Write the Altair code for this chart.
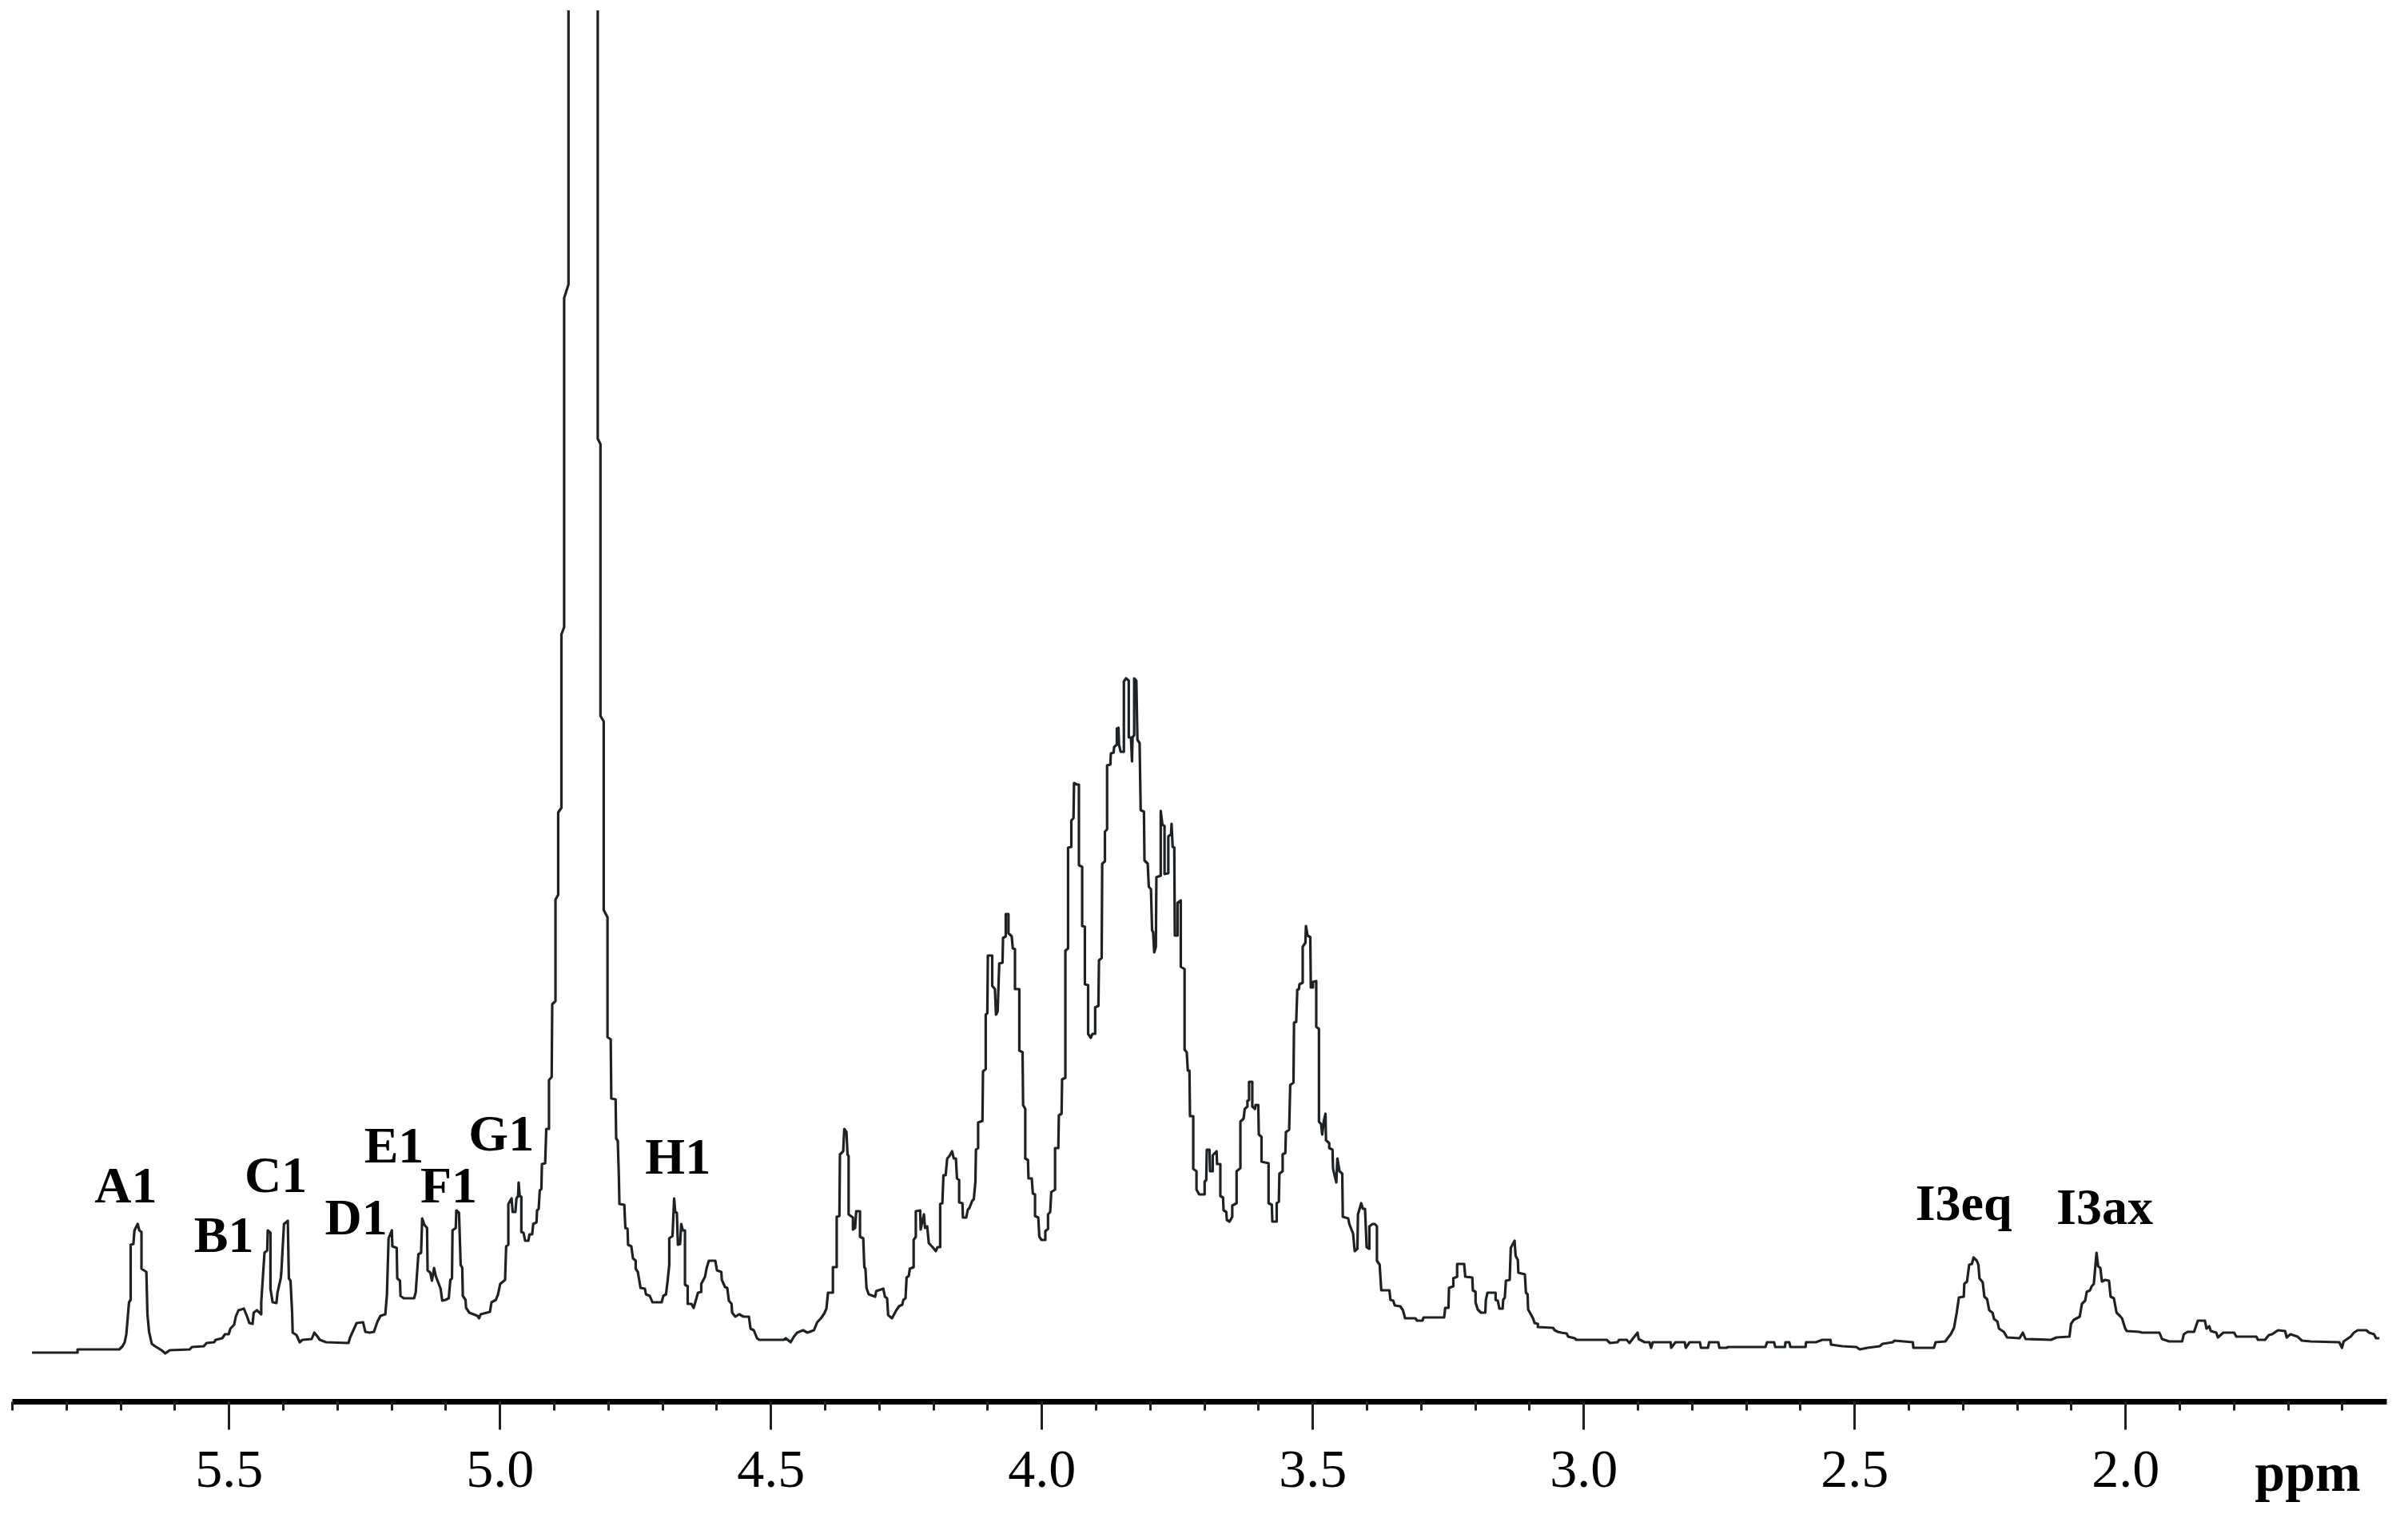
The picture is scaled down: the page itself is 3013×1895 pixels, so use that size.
import altair as alt
import pandas as pd

# 1H NMR spectrum trace: chemical shift (ppm) and intensity (arbitrary units)
ppm = [
    5.863, 5.779, 5.779, 5.702, 5.696, 5.692, 5.689, 5.684, 5.681, 5.681,
    5.676, 5.674, 5.668, 5.665, 5.661, 5.661, 5.652, 5.650, 5.647, 5.642,
    5.636, 5.624, 5.617, 5.609, 5.572, 5.568, 5.546, 5.541, 5.527, 5.524,
    5.512, 5.507, 5.500, 5.497, 5.490, 5.487, 5.482, 5.472, 5.466, 5.462,
    5.456, 5.454, 5.448, 5.440, 5.440, 5.434, 5.429, 5.428, 5.423, 5.423,
    5.419, 5.412, 5.410, 5.404, 5.403, 5.398, 5.391, 5.389, 5.386, 5.383,
    5.382, 5.375, 5.369, 5.364, 5.347, 5.342, 5.336, 5.332, 5.320, 5.279,
    5.276, 5.264, 5.252, 5.248, 5.240, 5.232, 5.226, 5.220, 5.211, 5.208,
    5.205, 5.199, 5.198, 5.190, 5.189, 5.184, 5.183, 5.177, 5.158, 5.155,
    5.150, 5.145, 5.143, 5.139, 5.134, 5.133, 5.128, 5.125, 5.121, 5.118,
    5.109, 5.106, 5.100, 5.094, 5.091, 5.088, 5.087, 5.081, 5.080, 5.075,
    5.072, 5.069, 5.068, 5.063, 5.062, 5.056, 5.041, 5.038, 5.035,
    5.018, 5.015, 5.007, 5.003, 4.999, 4.990, 4.988, 4.984, 4.984, 4.978,
    4.976, 4.971, 4.969, 4.966, 4.965, 4.963, 4.960, 4.960, 4.956, 4.953,
    4.947, 4.945, 4.940, 4.938, 4.932, 4.931, 4.928, 4.926, 4.923, 4.922,
    4.916, 4.914, 4.909, 4.909, 4.904, 4.903, 4.897, 4.897, 4.892, 4.892,
    4.886, 4.886, 4.881, 4.881, 4.873, 4.873, 4.819, 4.819, 4.814, 4.814,
    4.808, 4.808, 4.801, 4.801, 4.795, 4.794, 4.786, 4.785, 4.782, 4.780,
    4.779, 4.770, 4.768, 4.764, 4.763, 4.757, 4.754, 4.749, 4.749, 4.745,
    4.740, 4.732, 4.730, 4.723, 4.718, 4.701, 4.698, 4.693, 4.690, 4.687,
    4.687, 4.681, 4.678, 4.676, 4.673, 4.671, 4.667, 4.665, 4.662, 4.658,
    4.658, 4.653, 4.653, 4.646, 4.642, 4.639, 4.634, 4.628, 4.628, 4.621,
    4.618, 4.614, 4.602, 4.599, 4.591, 4.590, 4.584, 4.580, 4.577, 4.572,
    4.571, 4.565, 4.558, 4.550, 4.540, 4.537, 4.531, 4.525, 4.521, 4.476,
    4.472, 4.463, 4.457, 4.451, 4.440, 4.432,
    4.420, 4.414, 4.407, 4.401, 4.397, 4.394, 4.385, 4.385, 4.378, 4.378,
    4.373, 4.372, 4.366, 4.364, 4.360, 4.358, 4.356, 4.356, 4.348, 4.348,
    4.344, 4.342, 4.335, 4.335, 4.329, 4.327, 4.325, 4.323, 4.319, 4.307,
    4.305, 4.292, 4.289, 4.285, 4.283, 4.276, 4.268, 4.263, 4.257, 4.255,
    4.251, 4.249, 4.245, 4.243, 4.236, 4.236, 4.232, 4.232, 4.224, 4.223,
    4.220, 4.217, 4.215, 4.211, 4.208, 4.201, 4.195, 4.192, 4.187, 4.187,
    4.183, 4.181, 4.177, 4.174, 4.170, 4.165, 4.162, 4.158, 4.156, 4.152,
    4.152, 4.146, 4.145, 4.139, 4.136, 4.133, 4.128, 4.125, 4.122, 4.121,
    4.117, 4.117, 4.109, 4.108, 4.103, 4.103, 4.100, 4.099, 4.091, 4.091,
    4.086, 4.084, 4.081, 4.078, 4.072, 4.071, 4.066, 4.066, 4.061, 4.061,
    4.055, 4.053, 4.049, 4.049, 4.041, 4.041, 4.035, 4.034, 4.030, 4.030,
    4.025, 4.024, 4.018, 4.016, 4.012, 4.012, 4.006, 4.004, 4.000, 3.993,
    3.993, 3.988, 3.988, 3.984, 3.982, 3.975, 3.975, 3.969, 3.968, 3.963,
    3.962, 3.956, 3.956, 3.951, 3.951, 3.945, 3.945, 3.941, 3.940, 3.935,
    3.931, 3.931, 3.925, 3.925, 3.920, 3.920, 3.914, 3.914, 3.909, 3.906,
    3.901, 3.901, 3.895, 3.894, 3.889, 3.888, 3.883, 3.883, 3.879, 3.879,
    3.873, 3.872, 3.867, 3.866, 3.861, 3.861, 3.858, 3.857, 3.854, 3.848,
    3.848, 3.844, 3.839, 3.839, 3.835, 3.833, 3.832, 3.829, 3.829, 3.825,
    3.823, 3.819, 3.817, 3.811, 3.810, 3.804, 3.802, 3.798, 3.796, 3.794,
    3.792, 3.789, 3.788, 3.780, 3.780, 3.777, 3.773, 3.773, 3.766, 3.766,
    3.761, 3.760, 3.758, 3.755, 3.754, 3.749, 3.749, 3.743, 3.743, 3.736,
    3.736, 3.732, 3.730, 3.727, 3.726, 3.720, 3.720, 3.714, 3.714, 3.709,
    3.699, 3.699, 3.696, 3.695, 3.690, 3.689, 3.684, 3.684, 3.677, 3.676,
    3.670, 3.670, 3.665, 3.664, 3.659, 3.658, 3.653, 3.648, 3.648, 3.640,
    3.640, 3.633, 3.633, 3.627, 3.625, 3.620, 3.620, 3.617, 3.617, 3.611,
    3.611, 3.606, 3.605, 3.600, 3.599, 3.594, 3.594, 3.581, 3.581, 3.575,
    3.574, 3.566, 3.566, 3.562, 3.561, 3.555, 3.555, 3.550, 3.549, 3.543,
    3.541, 3.535, 3.534, 3.530, 3.528, 3.525, 3.524, 3.518, 3.518, 3.513,
    3.512, 3.509, 3.504, 3.503, 3.499, 3.499, 3.493, 3.493, 3.488, 3.488,
    3.484, 3.482, 3.479, 3.476, 3.475, 3.469, 3.469, 3.463, 3.462, 3.456,
    3.454, 3.450, 3.445, 3.444, 3.434, 3.432, 3.425, 3.422, 3.417, 3.416,
    3.410, 3.407, 3.403, 3.400, 3.395, 3.395, 3.389, 3.385, 3.381, 3.381,
    3.376, 3.373, 3.358, 3.356, 3.351, 3.348, 3.338, 3.333, 3.329,
    3.310, 3.307, 3.297, 3.295, 3.257, 3.255, 3.249, 3.248, 3.240, 3.240,
    3.233, 3.233, 3.220, 3.218, 3.205, 3.204, 3.199, 3.199, 3.195, 3.189,
    3.181, 3.180, 3.177, 3.162, 3.162, 3.158, 3.155, 3.149, 3.148, 3.145,
    3.143, 3.136, 3.134, 3.131, 3.127, 3.125, 3.121, 3.120, 3.108, 3.106,
    3.103, 3.102, 3.097, 3.093, 3.090, 3.084, 3.084, 3.056, 3.053, 3.047,
    3.041, 3.031, 3.028, 3.016, 3.013, 2.957, 2.951, 2.937, 2.934, 2.920,
    2.915, 2.907, 2.900, 2.898, 2.887, 2.878, 2.875, 2.872,
    2.839, 2.838, 2.830, 2.813, 2.811, 2.804, 2.785, 2.783, 2.770, 2.768,
    2.751, 2.749, 2.736, 2.733, 2.664, 2.661, 2.648, 2.646, 2.628, 2.627,
    2.620, 2.618, 2.590, 2.589, 2.571, 2.559, 2.544, 2.543, 2.522, 2.496,
    2.490, 2.476, 2.453, 2.448, 2.429, 2.426, 2.392, 2.391, 2.353, 2.350,
    2.332, 2.329, 2.322, 2.316, 2.311, 2.307, 2.298, 2.297, 2.292, 2.288,
    2.283, 2.280, 2.274, 2.271, 2.269, 2.263, 2.260, 2.255, 2.251, 2.245,
    2.242, 2.236, 2.233, 2.224, 2.218, 2.195, 2.189, 2.184, 2.137, 2.127,
    2.103, 2.100, 2.095, 2.084, 2.080, 2.074, 2.071, 2.065, 2.062, 2.058,
    2.053, 2.050, 2.046, 2.043, 2.037, 2.030, 2.027, 2.021, 2.016, 2.010,
    2.006, 2.000, 1.997, 1.974, 1.969, 1.937, 1.932, 1.919, 1.895, 1.892,
    1.885, 1.873, 1.866, 1.853, 1.850, 1.845, 1.842, 1.832, 1.829, 1.819,
    1.799, 1.795, 1.758, 1.755, 1.742, 1.735, 1.729, 1.718, 1.705, 1.702,
    1.695, 1.682, 1.674, 1.658, 1.605, 1.600, 1.597, 1.584, 1.578, 1.571,
    1.555, 1.550, 1.541, 1.537, 1.531,
]

intensity = [
    61, 61, 65, 65, 69, 74, 84, 124, 127, 196,
    197, 214, 222, 214, 212, 166, 162, 109, 87, 72,
    69, 64, 60, 64, 65, 68, 69, 73, 74, 77,
    79, 84, 84, 91, 96, 106, 114, 116, 106, 98,
    97, 111, 114, 109, 124, 186, 189, 214, 211, 141,
    124, 123, 136, 154, 161, 222, 226, 154, 151, 111,
    86, 83, 74, 77, 78, 86, 81, 77, 74, 73,
    80, 98, 99, 87, 86, 87, 99, 107, 109, 134,
    204, 214, 194, 192, 154, 151, 132, 129, 129, 136,
    184, 186, 229, 221, 217, 164, 161, 151, 167, 157,
    141, 126, 127, 129, 152, 154, 214, 217, 239, 236,
    171, 167, 132, 127, 117, 111, 107, 104, 109,
    112, 124, 127, 134, 147, 152, 194, 196, 247, 254,
    237, 237, 254, 257, 274, 257, 256, 212, 211, 201,
    201, 209, 209, 222, 224, 239, 241, 264, 266, 297,
    298, 341, 341, 402, 406, 497, 501, 628, 634, 737,
    743, 960, 969, 1381, 1398, 2054, 2054, 1205, 1198, 858,
    851, 615, 606, 456, 453, 379, 378, 329, 326, 281,
    247, 246, 217, 216, 196, 194, 179, 176, 166, 162,
    142, 141, 134, 132, 124, 124, 132, 134, 151, 171,
    204, 207, 254, 237, 236, 196, 197, 222, 214, 214,
    146, 144, 122, 122, 117, 124, 136, 137, 147, 156,
    167, 176, 176, 164, 162, 152, 143, 142, 126, 122,
    111, 106, 109, 106, 106, 91, 89, 79, 77, 77,
    79, 74, 81, 86, 89, 86,
    89, 99, 104, 110, 116, 136, 136, 168, 168, 231,
    232, 309, 313, 341, 337, 309, 307, 234, 230, 215,
    217, 238, 238, 206, 204, 168, 166, 142, 134, 131,
    138, 141, 131, 129, 108, 104, 114, 119, 121, 127,
    129, 155, 157, 166, 168, 202, 206, 238, 239, 215,
    225, 234, 217, 219, 198, 193, 188, 193, 193, 247,
    248, 283, 283, 304, 307, 313, 304, 304, 279, 277,
    249, 248, 230, 230, 240, 242, 251, 253, 275, 315,
    317, 349, 351, 413, 416, 484, 486, 558, 558, 520,
    516, 484, 488, 548, 549, 580, 582, 610, 610, 586,
    582, 567, 566, 516, 516, 439, 437, 371, 366, 304,
    302, 279, 279, 260, 259, 232, 230, 206, 202, 202,
    213, 216, 234, 237, 262, 265, 317, 317, 358, 360,
    403, 405, 564, 567, 693, 694, 727, 730, 774, 772,
    772, 671, 669, 595, 594, 522, 521, 460, 455, 460,
    460, 493, 495, 552, 555, 673, 676, 713, 716, 796,
    797, 811, 812, 819, 822, 842, 843, 822, 813, 813,
    901, 905, 902, 831, 831, 801, 831, 834, 905, 902,
    828, 824, 740, 738, 677, 673, 644, 641, 590, 587,
    562, 569, 656, 658, 739, 722, 720, 660, 661, 707,
    710, 723, 694, 693, 583, 583, 624, 627, 544, 541,
    440, 437, 414, 414, 357, 357, 291, 288, 265, 259,
    259, 275, 277, 315, 315, 288, 288, 308, 313, 297,
    297, 257, 255, 239, 237, 227, 225, 231, 245, 248,
    288, 292, 350, 354, 366, 369, 376, 377, 400, 400,
    369, 366, 371, 371, 334, 331, 300, 298, 248, 246,
    225, 225, 248, 250, 285, 288, 309, 311, 337, 340,
    396, 399, 474, 475, 515, 516, 522, 524, 569, 574,
    595, 583, 581, 518, 518, 525, 526, 469, 466, 350,
    347, 334, 351, 360, 327, 323, 317, 315, 291, 274,
    304, 288, 285, 231, 229, 222, 210, 188, 191, 234,
    248, 241, 241, 193, 191, 219, 222, 222, 219, 176,
    171, 139, 139, 127, 126, 120, 119, 114, 104,
    104, 101, 101, 105, 105, 117, 117, 142, 144, 154,
    156, 172, 172, 156, 155, 139, 137, 124, 115, 111,
    111, 127, 136, 136, 127, 126, 116, 116, 127, 130,
    151, 152, 192, 196, 201, 182, 177, 161, 159, 136,
    134, 115, 109, 104, 98, 97, 93, 92, 89, 87,
    86, 85, 81, 79, 77, 77, 73, 74, 77, 77,
    73, 80, 86, 78, 74, 74, 67, 74,
    74, 67, 74, 74, 67, 74, 74, 67, 67, 74,
    74, 67, 67, 68, 68, 74, 74, 68, 68, 74,
    74, 68, 68, 74, 74, 77, 77, 71, 69, 68,
    65, 67, 69, 72, 74, 76, 74, 67, 67, 74,
    75, 78, 84, 92, 111, 130, 131, 147, 150, 171,
    172, 180, 176, 171, 154, 149, 131, 128, 114, 111,
    103, 100, 91, 87, 80, 79, 86, 78, 77, 80,
    81, 97, 102, 106, 122, 126, 137, 139, 144, 147,
    186, 169, 167, 150, 152, 151, 131, 129, 111, 107,
    104, 91, 88, 87, 86, 86, 78, 75, 75, 84,
    87, 87, 101, 101, 91, 94, 88, 86, 80, 86,
    86, 81, 81, 77, 77, 83, 84, 89, 88, 80,
    84, 81, 76, 75, 74, 67, 75, 81, 86, 89,
    89, 86, 84, 79, 79,
]

label_text = ["A1", "B1", "C1", "D1", "E1", "F1", "G1", "H1", "I3eq", "I3ax"]
label_ppm = [5.690, 5.509, 5.413, 5.265, 5.195, 5.094, 4.997, 4.671, 2.298, 2.038]
label_int = [249, 187, 262, 209, 299, 249, 314, 285, 227, 222]

major_ticks = [5.5, 5.0, 4.5, 4.0, 3.5, 3.0, 2.5, 2.0]
minor_ticks = [5.9, 5.8, 5.7, 5.6, 5.5, 5.4, 5.3, 5.2, 5.1, 5.0,
               4.9, 4.8, 4.7, 4.6, 4.5, 4.4, 4.3, 4.2, 4.1, 4.0,
               3.9, 3.8, 3.7, 3.6, 3.5, 3.4, 3.3, 3.2, 3.1, 3.0,
               2.9, 2.8, 2.7, 2.6, 2.5, 2.4, 2.3, 2.2, 2.1, 2.0,
               1.9, 1.8, 1.7, 1.6]

spec = pd.DataFrame({"ppm": ppm, "intensity": intensity, "i": list(range(len(ppm)))})
labels = pd.DataFrame({"ppm": label_ppm, "intensity": label_int, "label": label_text})

xscale = alt.Scale(domain=[1.518, 5.9], reverse=True, nice=False, zero=False)
yscale = alt.Scale(domain=[0, 1741], nice=False, zero=False)

line = alt.Chart(spec).mark_line(
    clip=True, color="#1e2224", strokeWidth=3.2, strokeJoin="round"
).encode(
    x=alt.X("ppm:Q", scale=xscale, axis=alt.Axis(
        orient="bottom", values=major_ticks, format=".1f", grid=False,
        domain=True, domainWidth=7, domainColor="#000000",
        ticks=True, tickSize=35, tickWidth=3, tickColor="#1e2224",
        labelFont="Liberation Serif", labelFontSize=68, labelColor="#000000",
        labelPadding=17, labelOverlap=False, labelFlush=False,
        title="ppm", titleFont="Liberation Serif", titleFontWeight="bold",
        titleFontSize=68, titleColor="#000000", titleX=2872, titleY=111,
        titleBaseline="alphabetic", titleAlign="center",
    )),
    y=alt.Y("intensity:Q", scale=yscale, axis=None),
    order=alt.Order("i:Q"),
)

text = alt.Chart(labels).mark_text(
    font="Liberation Serif", fontWeight="bold", fontSize=64,
    baseline="alphabetic", align="center", color="#000000",
).encode(
    x=alt.X("ppm:Q", scale=xscale, axis=alt.Axis(
        orient="bottom", values=minor_ticks, labels=False, domain=False,
        grid=False, ticks=True, tickSize=11, tickWidth=3, tickColor="#1e2224",
        title="",
    )),
    y=alt.Y("intensity:Q", scale=yscale, axis=None),
    text="label:N",
)

chart = alt.layer(line, text).resolve_axis(x="independent").properties(
    width=2971, height=1741,
    autosize=alt.AutoSizeParams(type="none"),
    padding={"left": 7, "top": 5, "right": 15, "bottom": 130},
    background="#ffffff",
).configure_view(strokeWidth=0)

chart.save("out.html", embed_options={"renderer": "svg", "actions": False})
